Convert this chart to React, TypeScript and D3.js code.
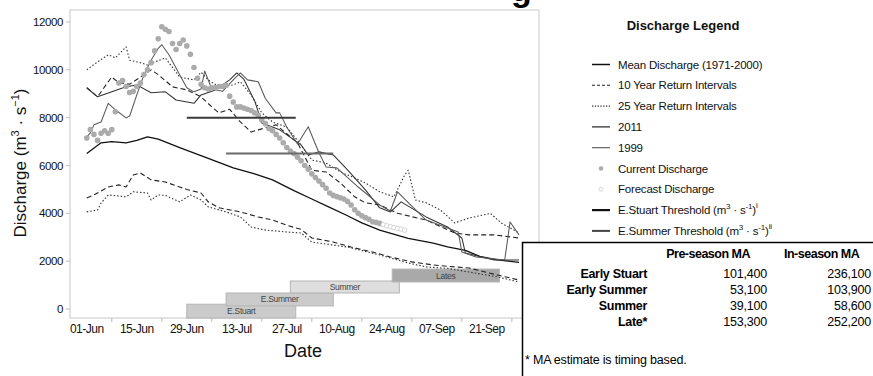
import * as d3 from 'd3'

const W = 873
const H = 376
const FONT = "'Liberation Sans', Arial, Helvetica, sans-serif"
const START = Date.UTC(2012, 5, 1)
const toDate = (d: number) => new Date(START + d * 86400000)

// axis ticks
const yTicks = [0, 2000, 4000, 6000, 8000, 10000, 12000]
const xLabelDays = [0, 14, 28, 42, 56, 70, 84, 98, 112]
const xMinorDays = [7, 21, 35, 49, 63, 77, 91, 105, 119]

// mean discharge 1971-2000
const meanDays = [0, 4, 7, 11, 14, 17, 20, 26, 34, 41, 47, 52, 58, 63, 68, 73, 77, 82, 90, 97, 101, 106, 110, 115, 121]
const meanVals = [6500, 6950, 7000, 6950, 7050, 7200, 7100, 6750, 6300, 5900, 5650, 5400, 4950, 4600, 4250, 3900, 3600, 3300, 2950, 2750, 2600, 2450, 2200, 2050, 1950]

// 10 year return intervals (upper / lower)
const tenHiDays = [0, 3, 6, 7, 9, 12, 16, 18, 20, 24, 28, 32, 35, 37, 40, 43, 46, 48, 53, 59, 63, 67, 71, 75, 78, 82, 87, 95, 103, 107, 114, 121]
const tenHiVals = [9250, 8870, 9500, 9700, 9450, 9400, 9790, 10000, 9800, 9290, 9160, 8870, 8450, 8200, 8350, 7820, 7400, 7490, 7700, 6950, 5800, 5730, 5270, 4690, 4440, 4350, 4000, 3720, 3180, 3100, 3100, 2970]
const tenLoDays = [0, 2, 6, 9, 11, 13, 15, 18, 22, 26, 28, 32, 34, 37, 43, 48, 52, 56, 60, 63, 69, 74, 80, 85, 91, 97, 103, 107, 115, 121]
const tenLoVals = [4640, 4770, 5100, 5190, 5100, 5600, 5690, 5400, 5310, 5100, 5000, 4850, 4480, 4230, 4060, 3850, 3720, 3500, 3330, 2970, 2800, 2590, 2380, 2175, 1970, 1840, 1760, 1715, 1420, 1210]

// 25 year return intervals (upper / lower)
const tfHiDays = [0, 3, 6, 8, 11, 12, 15, 17, 19, 22, 26, 30, 32, 34, 37, 41, 43, 46, 49, 52, 56, 60, 63, 67, 71, 75, 78, 82, 86, 89, 90, 92, 95, 99, 103, 107, 113, 116, 121]
const tfHiVals = [10000, 10330, 10630, 10500, 10960, 10400, 10300, 10200, 10330, 10500, 9700, 9580, 9900, 9580, 9290, 9370, 9500, 8950, 8200, 7820, 7600, 6860, 6230, 6100, 5730, 5480, 5270, 4900, 4690, 5600, 5800, 4560, 4440, 4140, 3600, 3800, 4000, 3600, 3180]
const tfLoDays = [0, 3, 4, 6, 11, 13, 17, 18, 20, 22, 26, 29, 32, 34, 39, 43, 46, 50, 56, 60, 63, 73, 82, 90, 95, 101, 115, 121]
const tfLoVals = [4060, 4140, 4430, 4770, 4690, 4900, 4850, 4560, 4770, 4750, 4480, 4770, 4560, 4270, 4060, 3850, 3430, 3300, 3220, 3180, 2800, 2590, 2260, 1925, 1760, 1700, 1340, 1130]

// 2011
const y2011Days = [0, 3, 7, 11, 14, 18, 22, 25, 30, 32, 36, 40, 42, 44, 47, 49, 54, 58, 60, 62, 65, 69, 73, 78, 82, 85, 88, 95, 101, 105, 106, 114, 121]
const y2011Vals = [9250, 8870, 9080, 9290, 9370, 9040, 9080, 8740, 8600, 8950, 9160, 9580, 9870, 9600, 8700, 7780, 7490, 7070, 6860, 6440, 6570, 6440, 5820, 4980, 4230, 4060, 4480, 3850, 3430, 2970, 2340, 2050, 2050]

// 1999
const y1999Days = [0, 1, 2, 4, 6, 8, 11, 12, 14, 16, 18, 20, 21, 23, 26, 28, 30, 32, 33, 35, 38, 41, 43, 45, 48, 50, 53, 54, 56, 59, 62, 65, 67, 70, 76, 82, 85, 87, 90, 95, 104, 105, 109, 117, 118.5, 121]
const y1999Vals = [7200, 7360, 7700, 7820, 8600, 8330, 7990, 8070, 8950, 9790, 10400, 10900, 11050, 10630, 9790, 9250, 9080, 9200, 9950, 9200, 9100, 9580, 9870, 9580, 9500, 8800, 8200, 8200, 7600, 6900, 7620, 6530, 5940, 5900, 5100, 4350, 4100, 4900, 4450, 3720, 3220, 2380, 2175, 2050, 3640, 3100]

// current (daily from 01-Jun) and forecast discharge
const currentVals = [7150, 7500, 7300, 7050, 7350, 7450, 7350, 7500, 8250, 9450, 9550, 9300, 9050, 9100, 9300, 9450, 9800, 10000, 10300, 10800, 11300, 11800, 11700, 11600, 11100, 10850, 11100, 11250, 11000, 10650, 10100, 9650, 9400, 9250, 9200, 9250, 9250, 9300, 9300, 9350, 8900, 8650, 8450, 8450, 8400, 8350, 8300, 8200, 8100, 7900, 7750, 7550, 7450, 7300, 7150, 6950, 6750, 6600, 6500, 6350, 6200, 6000, 5850, 5650, 5500, 5350, 5200, 5050, 4850, 4750, 4700, 4650, 4600, 4500, 4350, 4150, 4000, 3900, 3820, 3750, 3650, 3620, 3580]
const forecastStart = 83
const forecastVals = [3520, 3480, 3440, 3400, 3370, 3340, 3300]

// run timing bars
const runNames = ['E.Stuart', 'E.Summer', 'Summer', 'Lates']
const runStart = [28, 39, 57, 85.5]
const runEnd = [58.5, 69, 87.5, 115.5]
const runLow = [-380, 130, 670, 1130]
const runHigh = [200, 670, 1170, 1670]
const runFill = ['#cbcbcb', '#cbcbcb', '#dedede', '#a9a9a9']

// thresholds
const thrNames = ['E.Stuart', 'E.Summer']
const thrVals = [8000, 6500]
const thrStart = [28, 39]
const thrEnd = [58.5, 69]
const thrColor = ['#3a3a3a', '#6a6a6a']

// legend
const legendLabels = ['Mean Discharge (1971-2000)', '10 Year Return Intervals', '25 Year Return Intervals', '2011', '1999', 'Current Discharge', 'Forecast Discharge', 'E.Stuart Threshold', 'E.Summer Threshold']

// MA table
const tableRuns = ['Early Stuart', 'Early Summer', 'Summer', 'Late*']
const preSeason = ['101,400', '53,100', '39,100', '153,300']
const inSeason = ['236,100', '103,900', '58,600', '252,200']

export default function App() {
  const x = d3.scaleUtc().domain([toDate(-4.7), toDate(126.6)]).range([70, 539])
  const y = d3.scaleLinear().domain([0, 12000]).range([309, 22])
  const fmt = d3.utcFormat('%d-%b')
  const xd = (d: number) => x(toDate(d))

  const path = (days: number[], vals: number[]) =>
    d3.line<number>().x((_, i) => xd(days[i])).y((v) => y(v))(vals) || ''

  const series = [
    { d: path(meanDays, meanVals), stroke: '#111', w: 1.3, dash: '' },
    { d: path(tenHiDays, tenHiVals), stroke: '#222', w: 1.1, dash: '5,3' },
    { d: path(tenLoDays, tenLoVals), stroke: '#222', w: 1.1, dash: '5,3' },
    { d: path(tfHiDays, tfHiVals), stroke: '#333', w: 1.1, dash: '1.5,2' },
    { d: path(tfLoDays, tfLoVals), stroke: '#333', w: 1.1, dash: '1.5,2' },
    { d: path(y2011Days, y2011Vals), stroke: '#333', w: 1.05, dash: '' },
    { d: path(y1999Days, y1999Vals), stroke: '#5a5a5a', w: 1.05, dash: '' },
  ]

  const lx0 = 592
  const lx1 = 610
  const ly = (i: number) => 64.5 + i * 20.8

  return (
    <svg width={W} height={H} style={{ position: 'absolute', left: 0, top: 0, background: '#fff' }} fontFamily={FONT}>
      <rect width={W} height={H} fill="#fff" />
      {/* heading glyph clipped by the top edge, as in the source */}
      <text x={511} y={1} fontSize={34} fontWeight="bold" fill="#000">g</text>

      {/* panel frame */}
      <rect x={70} y={10} width={469} height={308} fill="none" stroke="#c8c8c8" strokeWidth={1} />

      {/* y axis */}
      {yTicks.map((t) => (
        <g key={t}>
          <line x1={66} x2={70} y1={y(t)} y2={y(t)} stroke="#bbb" />
          <text x={63} y={y(t) + 4} textAnchor="end" fontSize={11.5} letterSpacing={-0.4} fill="#111">{t}</text>
        </g>
      ))}
      <text transform="translate(26,163) rotate(-90)" textAnchor="middle" fontSize={17} fill="#111">
        Discharge (m<tspan fontSize={11} dy={-7}>3</tspan><tspan dy={7}> · s</tspan><tspan fontSize={11} dy={-7}>−1</tspan><tspan dy={7}>)</tspan>
      </text>

      {/* x axis */}
      {xMinorDays.map((d) => (
        <line key={d} x1={xd(d)} x2={xd(d)} y1={318} y2={322} stroke="#bbb" />
      ))}
      {xLabelDays.map((d) => (
        <text key={d} x={xd(d)} y={333} textAnchor="middle" fontSize={12} letterSpacing={-0.5} fill="#111">{fmt(toDate(d))}</text>
      ))}
      <text x={303} y={357} textAnchor="middle" fontSize={18} fill="#111">Date</text>

      {/* run timing bars */}
      {runNames.map((n, i) => (
        <g key={n}>
          <rect x={xd(runStart[i])} y={y(runHigh[i])} width={xd(runEnd[i]) - xd(runStart[i])} height={y(runLow[i]) - y(runHigh[i])} fill={runFill[i]} stroke="#b4b4b4" strokeWidth={1} />
          <text x={(xd(runStart[i]) + xd(runEnd[i])) / 2} y={(y(runHigh[i]) + y(runLow[i])) / 2 + 3} textAnchor="middle" fontSize={8.5} letterSpacing={-0.3} fill="#444">{n}</text>
        </g>
      ))}

      {/* discharge lines */}
      {series.map((s, i) => (
        <path key={i} d={s.d} fill="none" stroke={s.stroke} strokeWidth={s.w} strokeDasharray={s.dash || undefined} strokeLinejoin="round" />
      ))}

      {/* current + forecast */}
      {currentVals.map((v, i) => (
        <circle key={'c' + i} cx={xd(i)} cy={y(v)} r={2.8} fill="#ababab" />
      ))}
      {forecastVals.map((v, i) => (
        <circle key={'f' + i} cx={xd(forecastStart + i)} cy={y(v)} r={2.3} fill="#fff" stroke="#cfcfcf" strokeWidth={0.9} />
      ))}

      {/* thresholds */}
      {thrNames.map((n, i) => (
        <line key={n} x1={xd(thrStart[i])} x2={xd(thrEnd[i])} y1={y(thrVals[i])} y2={y(thrVals[i])} stroke={thrColor[i]} strokeWidth={2} />
      ))}

      {/* legend */}
      <text x={683} y={30} textAnchor="middle" fontSize={13} fontWeight="bold" fill="#111">Discharge Legend</text>
      {legendLabels.map((l, i) => {
        const cy = ly(i)
        let mark = null
        if (i === 0) mark = <line x1={lx0} x2={lx1} y1={cy} y2={cy} stroke="#111" strokeWidth={1.5} />
        if (i === 1) mark = <line x1={lx0} x2={lx1} y1={cy} y2={cy} stroke="#222" strokeWidth={1.1} strokeDasharray="3,2" />
        if (i === 2) mark = <line x1={lx0} x2={lx1} y1={cy} y2={cy} stroke="#333" strokeWidth={1.1} strokeDasharray="1.3,1.5" />
        if (i === 3) mark = <line x1={lx0} x2={lx1} y1={cy} y2={cy} stroke="#222" strokeWidth={1.2} />
        if (i === 4) mark = <line x1={lx0} x2={lx1} y1={cy} y2={cy} stroke="#555" strokeWidth={1.1} />
        if (i === 5) mark = <circle cx={601} cy={cy} r={2.3} fill="#ababab" />
        if (i === 6) mark = <circle cx={601} cy={cy} r={2} fill="#fff" stroke="#cfcfcf" strokeWidth={0.8} />
        if (i === 7) mark = <line x1={lx0} x2={lx1} y1={cy} y2={cy} stroke="#111" strokeWidth={2.2} />
        if (i === 8) mark = <line x1={lx0} x2={lx1} y1={cy} y2={cy} stroke="#444" strokeWidth={2} />
        const sup = i === 7 ? 'i' : 'ii'
        return (
          <g key={l}>
            {mark}
            <text x={618} y={cy + 4} fontSize={11.5} letterSpacing={-0.2} fill="#111">
              {l}
              {i >= 7 && (
                <>
                  {' (m'}<tspan fontSize={8} dy={-5}>3</tspan><tspan dy={5}>{' · s'}</tspan><tspan fontSize={8} dy={-5}>-1</tspan><tspan dy={5}>)</tspan><tspan fontSize={8} dy={-6}>{sup}</tspan>
                </>
              )}
            </text>
          </g>
        )
      })}

      {/* MA table */}
      <rect x={522} y={242} width={360} height={140} fill="#fff" />
      <line x1={522} x2={873} y1={242.5} y2={242.5} stroke="#000" strokeWidth={1.5} />
      <line x1={522.5} x2={522.5} y1={242} y2={376} stroke="#000" strokeWidth={1.5} />
      <text x={750} y={258} textAnchor="end" fontSize={12.5} fontWeight="bold" letterSpacing={-0.5} fill="#000">Pre-season MA</text>
      <text x={784} y={258} fontSize={12.5} fontWeight="bold" letterSpacing={-0.5} fill="#000">In-season MA</text>
      {tableRuns.map((r, i) => {
        const by = 277.5 + i * 16
        return (
          <g key={r}>
            <text x={647} y={by} textAnchor="end" fontSize={12.5} fontWeight="bold" letterSpacing={-0.3} fill="#000">{r}</text>
            <text x={767} y={by} textAnchor="end" fontSize={12.5} letterSpacing={-0.2} fill="#000">{preSeason[i]}</text>
            <text x={871} y={by} textAnchor="end" fontSize={12.5} letterSpacing={-0.2} fill="#000">{inSeason[i]}</text>
          </g>
        )
      })}
      <text x={525} y={364} fontSize={12.5} letterSpacing={-0.2} fill="#000">* MA estimate is timing based.</text>
    </svg>
  )
}
